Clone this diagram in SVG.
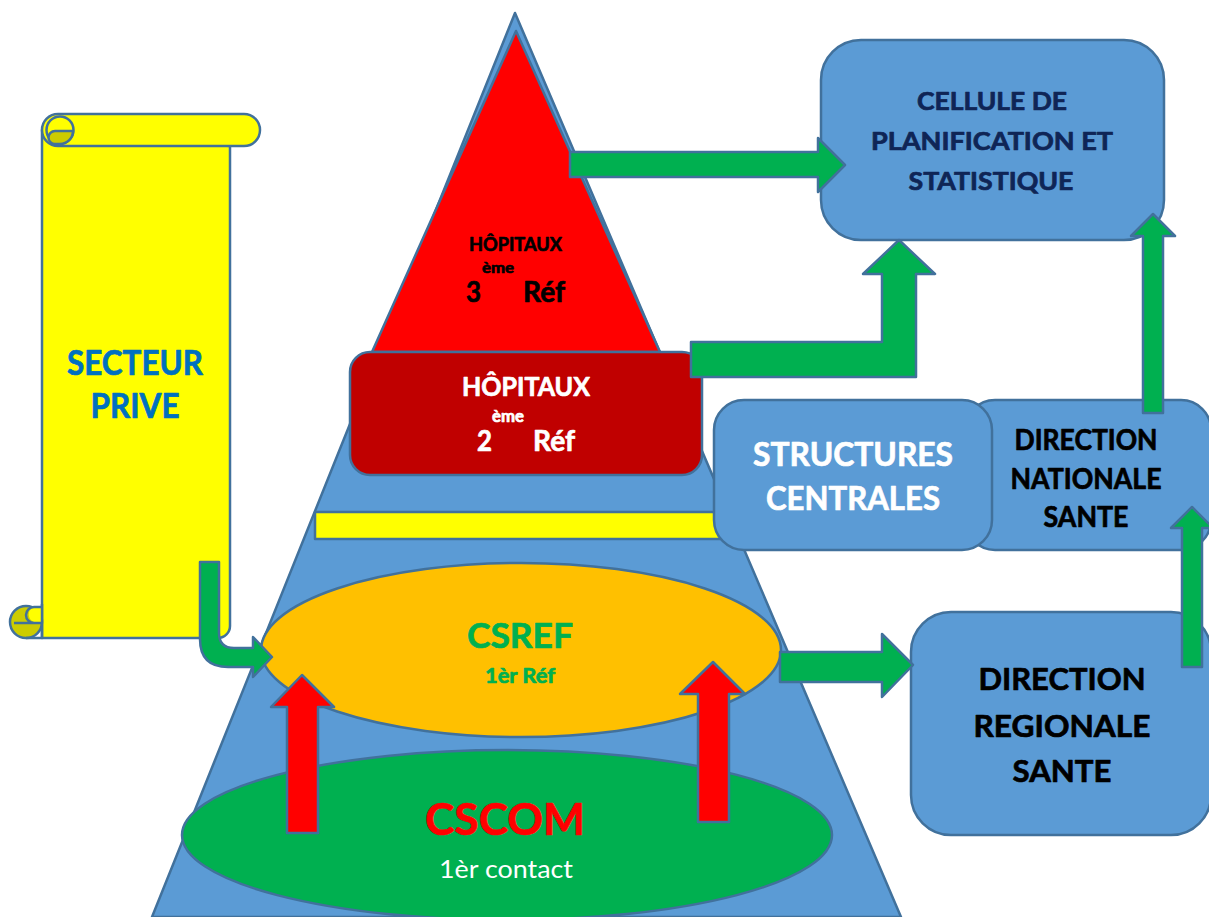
<svg xmlns="http://www.w3.org/2000/svg" width="1209" height="917" viewBox="0 0 1209 917">
<style>
.s{stroke:#41719C;stroke-width:2.5;stroke-linejoin:round}
.box{fill:#5B9BD5}
.t{font-family:Lato,"Liberation Sans",sans-serif;font-weight:bold;stroke-width:0.7;stroke-linejoin:round}
.k{fill:#000000;stroke:#000000}
.w{fill:#FFFFFF;stroke:#FFFFFF}
.n{fill:#0F2556;stroke:#0F2556}
.b{fill:#0070C0;stroke:#0070C0}
.gt{fill:#00B050;stroke:#00B050}
.rt{fill:#FF0000;stroke:#FF0000}
.g{fill:#00B050}
.r{fill:#FF0000}
</style>
<rect width="1209" height="917" fill="#FFFFFF"/>

<g id="secteur-prive">
  <path class="s" d="M42,130 V638 H218 A12,12 0 0 0 230,626 V146 Z" fill="#FFFF00"/>
  <rect class="s" x="42" y="114" width="218" height="32" rx="16" fill="#FFFF00"/>
  <circle class="s" cx="60" cy="130" r="13.5" fill="#FFFF00"/>
  <path class="s" d="M55,131 H73 A13,13 0 0 1 60,144 H55 A6.5,6.5 0 0 1 55,131 Z" fill="#CCCC00"/>
  <circle class="s" cx="26" cy="622" r="16" fill="#CCCC00"/>
  <path d="M42,607 V622 H34 A8,8 0 0 1 34,607 Z" fill="#FFFF00"/>
  <path class="s" d="M14,623 H42 M34,623 A8,8 0 0 1 34,607 H42" fill="none"/>
  <path class="s" d="M42,604 V638 H26" fill="none"/>
  <text class="t b" x="135" y="375" font-size="34" text-anchor="middle" textLength="136" lengthAdjust="spacingAndGlyphs">SECTEUR</text>
  <text class="t b" x="135" y="418" font-size="34" text-anchor="middle" textLength="89" lengthAdjust="spacingAndGlyphs">PRIVE</text>
</g>

<g id="pyramide">
  <path class="s" d="M515,13 L901,917 L152,917 Z" fill="#5B9BD5"/>
</g>

<g id="hopitaux-3">
  <path class="s" d="M516,31 L660,352 L372,352 Z" fill="#FF0000"/>
  <text class="t k" x="515.5" y="251" font-size="19" text-anchor="middle" textLength="93" lengthAdjust="spacingAndGlyphs">HÔPITAUX</text>
  <text class="t k" x="482" y="273" font-size="15" textLength="32" lengthAdjust="spacingAndGlyphs">ème</text>
  <text class="t k" x="466" y="302" font-size="29" textLength="15" lengthAdjust="spacingAndGlyphs">3</text>
  <text class="t k" x="523" y="302" font-size="29" textLength="42" lengthAdjust="spacingAndGlyphs">Réf</text>
</g>

<g id="barre-jaune">
  <rect class="s" x="315" y="512" width="410" height="27" fill="#FFFF00"/>
</g>

<g id="hopitaux-2">
  <rect class="s" x="350" y="352" width="352" height="123" rx="20" fill="#C00000"/>
  <text class="t w" x="526" y="396" font-size="26" text-anchor="middle" textLength="128" lengthAdjust="spacingAndGlyphs">HÔPITAUX</text>
  <text class="t w" x="492" y="422" font-size="17" textLength="32" lengthAdjust="spacingAndGlyphs">ème</text>
  <text class="t w" x="477" y="451" font-size="29" textLength="15" lengthAdjust="spacingAndGlyphs">2</text>
  <text class="t w" x="533" y="451" font-size="29" textLength="42" lengthAdjust="spacingAndGlyphs">Réf</text>
</g>

<g id="direction-nationale">
  <rect class="s box" x="965" y="400" width="246" height="150" rx="30"/>
  <text class="t k" x="1086" y="450" font-size="28" text-anchor="middle" textLength="143" lengthAdjust="spacingAndGlyphs">DIRECTION</text>
  <text class="t k" x="1086" y="489" font-size="28" text-anchor="middle" textLength="151" lengthAdjust="spacingAndGlyphs">NATIONALE</text>
  <text class="t k" x="1086" y="527" font-size="28" text-anchor="middle" textLength="85" lengthAdjust="spacingAndGlyphs">SANTE</text>
</g>

<g id="structures-centrales">
  <rect class="s box" x="714" y="400" width="278" height="150" rx="30"/>
  <text class="t w" x="853" y="466" font-size="32" text-anchor="middle" textLength="200" lengthAdjust="spacingAndGlyphs">STRUCTURES</text>
  <text class="t w" x="853" y="510" font-size="32" text-anchor="middle" textLength="174" lengthAdjust="spacingAndGlyphs">CENTRALES</text>
</g>

<g id="cellule-planification">
  <rect class="s box" x="821" y="40" width="343" height="200" rx="40"/>
  <text class="t n" x="992" y="110" font-size="25" text-anchor="middle" textLength="150" lengthAdjust="spacingAndGlyphs">CELLULE DE</text>
  <text class="t n" x="992" y="150" font-size="25" text-anchor="middle" textLength="242" lengthAdjust="spacingAndGlyphs">PLANIFICATION ET</text>
  <text class="t n" x="991" y="190" font-size="25" text-anchor="middle" textLength="165" lengthAdjust="spacingAndGlyphs">STATISTIQUE</text>
</g>

<g id="direction-regionale">
  <rect class="s box" x="911" y="612" width="300" height="223" rx="40"/>
  <text class="t k" x="1062" y="690" font-size="31" text-anchor="middle" textLength="167" lengthAdjust="spacingAndGlyphs">DIRECTION</text>
  <text class="t k" x="1062" y="737" font-size="31" text-anchor="middle" textLength="177" lengthAdjust="spacingAndGlyphs">REGIONALE</text>
  <text class="t k" x="1062" y="782" font-size="31" text-anchor="middle" textLength="99" lengthAdjust="spacingAndGlyphs">SANTE</text>
</g>

<g id="csref">
  <ellipse class="s" cx="521" cy="650" rx="260" ry="87" fill="#FFC000"/>
  <text class="t gt" x="520" y="648" font-size="35" text-anchor="middle" textLength="106" lengthAdjust="spacingAndGlyphs">CSREF</text>
  <text class="t gt" x="520" y="683" font-size="20" text-anchor="middle" textLength="70" lengthAdjust="spacingAndGlyphs">1èr Réf</text>
</g>

<g id="cscom">
  <ellipse class="s" cx="507" cy="835" rx="325" ry="85" fill="#00B050"/>
  <text class="t rt" x="505" y="835" font-size="44" text-anchor="middle" textLength="160" lengthAdjust="spacingAndGlyphs">CSCOM</text>
  <text x="506" y="878" font-family="Lato,'Liberation Sans',sans-serif" font-size="25" fill="#FFFFFF" text-anchor="middle" textLength="134" lengthAdjust="spacingAndGlyphs">1èr contact</text>
</g>

<g id="connecteurs">
  <path class="s g" d="M570,152 H818 V138 L845,165 L818,192 V177 H570 Z"/>
  <path class="s g" d="M691,342 H882 V274 H863 L899,240 L935,274 H916 V377 H691 Z"/>
  <path class="s g" d="M1143,413 V236 H1131 L1153,214 L1175,236 H1163 V413 Z"/>
  <path class="s g" d="M1182,667 V528 H1171 L1192,507 L1213,528 H1202 V667 Z"/>
  <path class="s g" d="M780,652 H882 V634 L913,665 L882,697 V682 H780 Z"/>
  <path class="s g" d="M200,562 H219 V633 Q219,648 234,648 H253 V637 L272,657 L253,677 V667 H228 Q200,667 200,639 Z"/>
  <path class="s r" d="M287,833 V707 H271 L302,675 L334,707 H318 V833 Z"/>
  <path class="s r" d="M698,822 V694 H680 L713,662 L745,694 H729 V822 Z"/>
</g>
</svg>
